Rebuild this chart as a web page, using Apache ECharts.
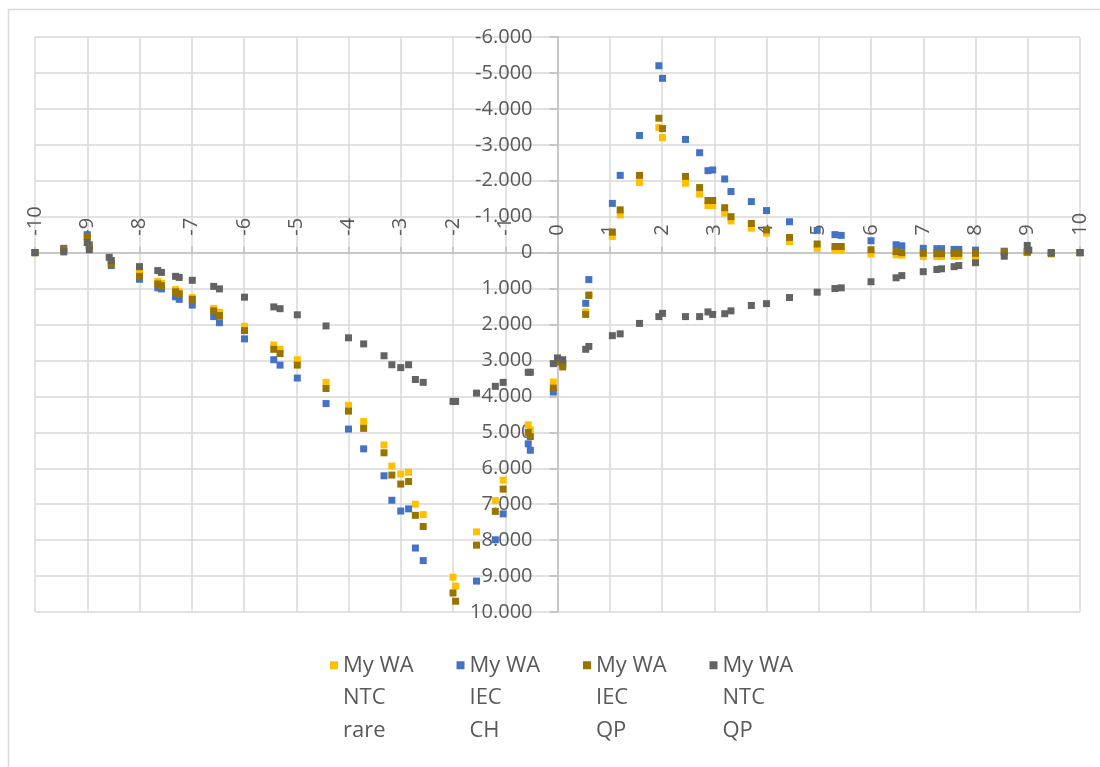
<!DOCTYPE html>
<html>
<head>
<meta charset="utf-8">
<script src="https://cdn.jsdelivr.net/npm/echarts@6/dist/echarts.min.js"></script>
<style>
html,body{margin:0;padding:0;background:#fff;}
#chart{width:1100px;height:767px;}
</style>
</head>
<body>
<div id="chart"></div>
<script>
const seriesNames = ['My WA NTC rare', 'My WA IEC CH', 'My WA IEC QP', 'My WA NTC QP'];
const seriesColors = ['#FFC000', '#4472C4', '#997300', '#636363'];

const xValues = [-10, -9.45, -9.0, -8.96, -8.58, -8.54, -8.0, -7.65, -7.58, -7.31, -7.24, -6.99, -6.58, -6.47, -5.99, -5.43, -5.31, -4.98, -4.43, -4.0, -3.71, -3.32, -3.17, -3.0, -2.85, -2.72, -2.57, -2.0, -1.95, -1.55, -1.19, -1.04, -0.56, -0.52, -0.08, 0.0, 0.1, 0.54, 0.6, 1.05, 1.2, 1.57, 1.94, 2.01, 2.45, 2.72, 2.88, 2.97, 3.2, 3.32, 3.71, 4.0, 4.44, 4.97, 5.31, 5.43, 6.0, 6.48, 6.59, 7.0, 7.26, 7.35, 7.59, 7.68, 8.0, 8.55, 8.99, 9.02, 9.45, 10];

const ntcRare = [0, -0.08, -0.43, -0.15, null, 0.27, 0.58, 0.8, 0.85, 1.03, 1.09, 1.25, 1.55, 1.66, 2.05, 2.57, 2.69, 2.98, 3.61, 4.25, 4.7, 5.35, 5.94, 6.16, 6.11, 7.0, 7.29, 9.03, 9.28, 7.77, 6.9, 6.33, 4.79, 4.93, 3.6, null, 3.07, 1.65, 1.17, -0.45, -1.05, -1.95, -3.48, -3.2, -1.93, -1.63, -1.31, -1.31, -1.1, -0.88, -0.68, -0.54, -0.31, -0.12, -0.07, -0.07, 0.04, 0.06, 0.07, 0.11, 0.11, 0.11, 0.1, 0.1, 0.08, 0.0, 0.0, null, 0.03, 0];

const iecCh = [0, -0.12, -0.5, -0.22, null, 0.36, 0.74, 0.98, 1.01, 1.23, 1.3, 1.46, 1.78, 1.95, 2.4, 2.98, 3.13, 3.49, 4.2, 4.91, 5.46, 6.21, 6.89, 7.19, 7.13, 8.22, 8.57, null, null, 9.14, 7.99, 7.27, 5.32, 5.5, 3.88, null, 3.1, 1.41, 0.75, -1.37, -2.15, -3.26, -5.2, -4.85, -3.15, -2.78, -2.28, -2.3, -2.05, -1.7, -1.42, -1.17, -0.86, -0.62, -0.5, -0.48, -0.33, -0.22, -0.19, -0.12, -0.11, -0.11, -0.09, -0.09, -0.07, -0.04, -0.02, null, 0.0, 0];

const iecQp = [0, -0.08, -0.45, -0.18, null, 0.3, 0.66, 0.87, 0.92, 1.09, 1.15, 1.3, 1.62, 1.75, 2.17, 2.69, 2.81, 3.13, 3.78, 4.41, 4.89, 5.57, 6.19, 6.44, 6.37, 7.31, 7.62, 9.47, 9.7, 8.14, 7.2, 6.58, 5.0, 5.12, 3.77, 3.05, 3.18, 1.72, 1.19, -0.57, -1.19, -2.15, -3.74, -3.45, -2.12, -1.81, -1.45, -1.45, -1.25, -1.0, -0.81, -0.63, -0.42, -0.24, -0.17, -0.17, -0.08, -0.03, 0.0, 0.02, 0.03, 0.03, 0.02, 0.02, 0.02, -0.02, -0.02, null, 0.03, 0];

const ntcQp = [0, -0.02, -0.28, -0.08, 0.13, 0.22, 0.39, 0.5, 0.55, 0.66, 0.69, 0.77, 0.94, 1.01, 1.24, 1.51, 1.56, 1.73, 2.04, 2.37, 2.54, 2.87, 3.12, 3.2, 3.12, 3.53, 3.61, 4.14, 4.14, 3.91, 3.72, 3.61, 3.33, 3.33, 3.09, 2.93, 2.98, 2.69, 2.61, 2.31, 2.26, 1.97, 1.78, 1.69, 1.78, 1.78, 1.65, 1.72, 1.7, 1.62, 1.47, 1.42, 1.25, 1.1, 1.0, 0.98, 0.81, 0.7, 0.64, 0.53, 0.47, 0.45, 0.39, 0.36, 0.28, 0.1, -0.2, -0.07, 0.0, 0];

const seriesValues = [ntcRare, iecCh, iecQp, ntcQp];

const X_MIN = -10, X_MAX = 10, Y_MIN = -6, Y_MAX = 10;

const FONT = "'Open Sans', 'Liberation Sans', sans-serif";
const TEXT_COLOR = '#595959';

function pairs(ys) {
  const out = [];
  for (let i = 0; i < xValues.length; i++) {
    if (ys[i] !== null && ys[i] !== undefined) out.push([xValues[i], ys[i]]);
  }
  return out;
}

const W = 1100, H = 767;
const G = {left: 35, right: 20, top: 37, bottom: 155};
const gridW = W - G.left - G.right;
const gridH = H - G.top - G.bottom;
// axes cross at zero: shift the axis lines from the grid edges to the zero positions
const yAxisOffset = -gridW * (0 - X_MIN) / (X_MAX - X_MIN);
const xAxisOffset = -gridH * (Y_MAX - 0) / (Y_MAX - Y_MIN);

const chart = echarts.init(document.getElementById('chart'), null, {renderer: 'canvas'});

const option = {
  backgroundColor: '#ffffff',
  animation: false,
  textStyle: {fontFamily: FONT},
  graphic: [{
    type: 'rect',
    left: 6, top: 7,
    shape: {width: 1120, height: 800},
    style: {fill: 'none', stroke: '#d9d9d9', lineWidth: 1.5},
    silent: true, z: -10
  }],
  grid: {left: G.left, right: G.right, top: G.top, bottom: G.bottom, containLabel: false, outerBoundsMode: 'none'},
  xAxis: {
    type: 'value',
    position: 'bottom',
    offset: xAxisOffset,
    min: X_MIN, max: X_MAX, interval: 1,
    axisLine: {onZero: false, lineStyle: {color: '#bfbfbf', width: 1.5}},
    axisTick: {show: true, inside: true, length: 6, lineStyle: {color: '#bfbfbf', width: 1.5}},
    axisLabel: {
      inside: true, rotate: 90, margin: 17,
      color: TEXT_COLOR, fontSize: 20, fontFamily: FONT,
      showMinLabel: true, showMaxLabel: true, hideOverlap: false
    },
    splitLine: {show: true, lineStyle: {color: '#d9d9d9', width: 1.5}}
  },
  yAxis: {
    type: 'value',
    position: 'left',
    offset: yAxisOffset,
    inverse: true,
    min: Y_MIN, max: Y_MAX, interval: 1,
    axisLine: {show: true, onZero: false, lineStyle: {color: '#bfbfbf', width: 1.5}},
    axisTick: {show: true, inside: false, length: 8, lineStyle: {color: '#bfbfbf', width: 1.5}},
    axisLabel: {
      margin: 25, color: TEXT_COLOR, fontSize: 20, fontFamily: FONT,
      hideOverlap: false,
      formatter: v => (v === 0 ? '0' : v.toFixed(3))
    },
    splitLine: {show: true, lineStyle: {color: '#d9d9d9', width: 1.5}}
  },
  legend: {
    data: seriesNames,
    left: 330, top: 584,
    padding: 0,
    orient: 'horizontal',
    icon: 'rect',
    itemWidth: 8, itemHeight: 8,
    itemGap: 33.5,
    textStyle: {color: TEXT_COLOR, fontSize: 22, lineHeight: 32.5, width: 80, fontFamily: FONT},
    formatter: n => {
      const p = n.split(' ');
      return '\n\n' + p[0] + ' ' + p[1] + '\n' + p[2] + '\n' + p[3];
    }
  },
  series: seriesNames.map((name, i) => ({
    name: name,
    type: 'scatter',
    symbol: 'rect',
    symbolSize: 7,
    itemStyle: {color: seriesColors[i], opacity: 1},
    data: pairs(seriesValues[i]),
    z: 2 + i,
    clip: true
  }))
};

chart.setOption(option);
</script>
</body>
</html>
